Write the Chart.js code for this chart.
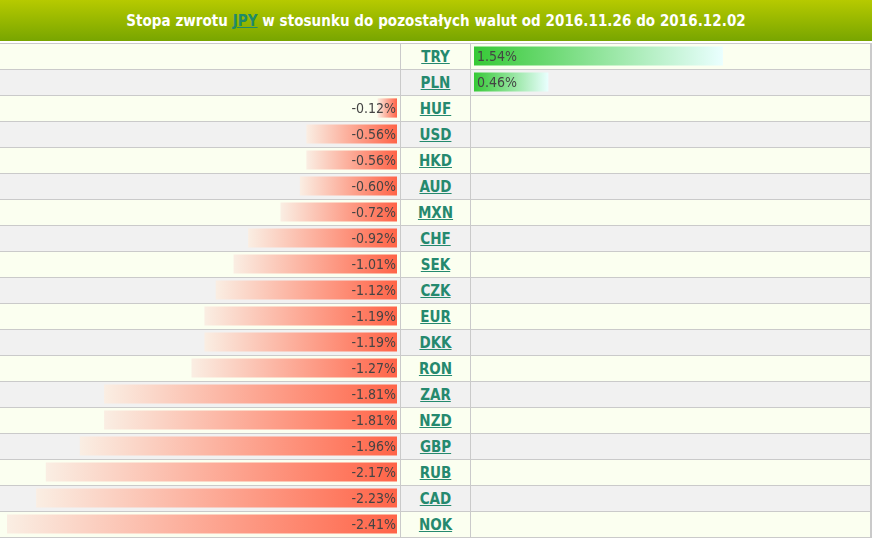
<!DOCTYPE html>
<html>
<head>
<meta charset="utf-8">
<script src="https://cdn.jsdelivr.net/npm/chart.js@4/dist/chart.umd.min.js"></script>
<style>
  body { margin:0; background:#fff; }
  #wrap { position:relative; width:877px; height:541px; overflow:hidden; }
  #hdr { position:absolute; left:0; top:0; width:872px; height:41px;
         background:linear-gradient(#b6ca00, #78a500);
         color:#fff; font:bold 15px "DejaVu Sans Condensed","Liberation Sans Narrow","DejaVu Sans",sans-serif;
         text-align:center; line-height:43px; letter-spacing:0.05px; }
  #hdr a { color:#1f8a6a; text-decoration:underline; }
  .row { position:absolute; left:0; width:870px; height:25px; border-top:1px solid #cacaca; }
  .code { position:absolute; left:401px; width:69px; text-align:center;
          font:bold 15px "DejaVu Sans Condensed","Liberation Sans Narrow","DejaVu Sans",sans-serif;
          line-height:26px; }
  .code a { color:#25896e; text-decoration:underline; }
  .vl { position:absolute; top:43px; width:1px; height:495px; background:#cacaca; }
  canvas { position:absolute; }
</style>
</head>
<body>
<div id="wrap">
  <div id="hdr">Stopa zwrotu <a>JPY</a> w stosunku do pozostałych walut od 2016.11.26 do 2016.12.02</div>
  <div id="rows"></div>
  <div class="vl" style="left:400px"></div>
  <div class="vl" style="left:470px"></div>
  <div class="vl" style="left:870px;width:2px"></div>
  <canvas id="cl" width="400" height="494" style="left:0;top:43px"></canvas>
  <canvas id="cr" width="399" height="494" style="left:471px;top:43px"></canvas>
</div>
<script>
const codes = ['TRY','PLN','HUF','USD','HKD','AUD','MXN','CHF','SEK','CZK','EUR','DKK','RON','ZAR','NZD','GBP','RUB','CAD','NOK'];
const returns = [1.54,0.46,-0.12,-0.56,-0.56,-0.60,-0.72,-0.92,-1.01,-1.12,-1.19,-1.19,-1.27,-1.81,-1.81,-1.96,-2.17,-2.23,-2.41];
const negValues = returns.map(v => v < 0 ? v : null);
const posValues = returns.map(v => v > 0 ? v : null);

// rows (background table)
const rowsEl = document.getElementById('rows');
codes.forEach((c, i) => {
  const r = document.createElement('div');
  r.className = 'row';
  r.style.top = (43 + 26 * i) + 'px';
  r.style.background = i % 2 === 0 ? '#fbfff0' : '#f1f1f1';
  rowsEl.appendChild(r);
  const t = document.createElement('div');
  t.className = 'code';
  t.style.top = (44 + 26 * i) + 'px';
  t.innerHTML = '<a>' + c + '</a>';
  rowsEl.appendChild(t);
});
const last = document.createElement('div');
last.className = 'row';
last.style.top = (43 + 26 * codes.length) + 'px';
last.style.height = '0px';
rowsEl.appendChild(last);

const labelFont = '14px "DejaVu Sans Condensed", "DejaVu Sans", sans-serif';
const valueLabels = {
  id: 'valueLabels',
  afterDatasetsDraw(chart) {
    const ctx = chart.ctx;
    const meta = chart.getDatasetMeta(0);
    const data = chart.data.datasets[0].data;
    ctx.save();
    ctx.font = labelFont;
    ctx.fillStyle = '#444';
    ctx.textBaseline = 'middle';
    meta.data.forEach((el, i) => {
      const v = data[i];
      if (v === null) return;
      const txt = v.toFixed(2) + '%';
      if (v < 0) { ctx.textAlign = 'right'; ctx.fillText(txt, el.base - 1, el.y + 1); }
      else { ctx.textAlign = 'left'; ctx.fillText(txt, el.base + 3, el.y + 1); }
    });
    ctx.restore();
  }
};

function grad(context, c0, c1) {
  const chart = context.chart;
  const v = context.raw;
  if (typeof v !== 'number' || !chart.scales || !chart.scales.x) return c1;
  const x = chart.scales.x;
  const a = x.getPixelForValue(Math.min(v, 0));
  const b = x.getPixelForValue(Math.max(v, 0));
  if (!isFinite(a) || !isFinite(b) || a === b) return c1;
  const g = chart.ctx.createLinearGradient(a, 0, b, 0);
  g.addColorStop(0, c0);
  g.addColorStop(1, c1);
  return g;
}

function makeChart(id, values, xmin, xmax, pad, c0, c1) {
  return new Chart(document.getElementById(id), {
    type: 'bar',
    data: { labels: codes, datasets: [{ data: values,
      backgroundColor: ctx => grad(ctx, c0, c1),
      borderWidth: 0, barPercentage: 0.74, categoryPercentage: 1 }] },
    options: {
      indexAxis: 'y', responsive: false, animation: false,
      layout: { padding: pad },
      scales: {
        x: { type: 'linear', min: xmin, max: xmax, display: false },
        y: { display: false }
      },
      plugins: { legend: { display: false }, tooltip: { enabled: false } }
    },
    plugins: [valueLabels]
  });
}

makeChart('cl', negValues, -2.41, 0, { left: 7, right: 3, top: 0, bottom: 0 }, '#faeee3', '#ff6448');
makeChart('cr', posValues, 0, 2.45, { left: 3, right: 0, top: 0, bottom: 0 }, '#36c936', '#eaffff');
</script>
</body>
</html>
